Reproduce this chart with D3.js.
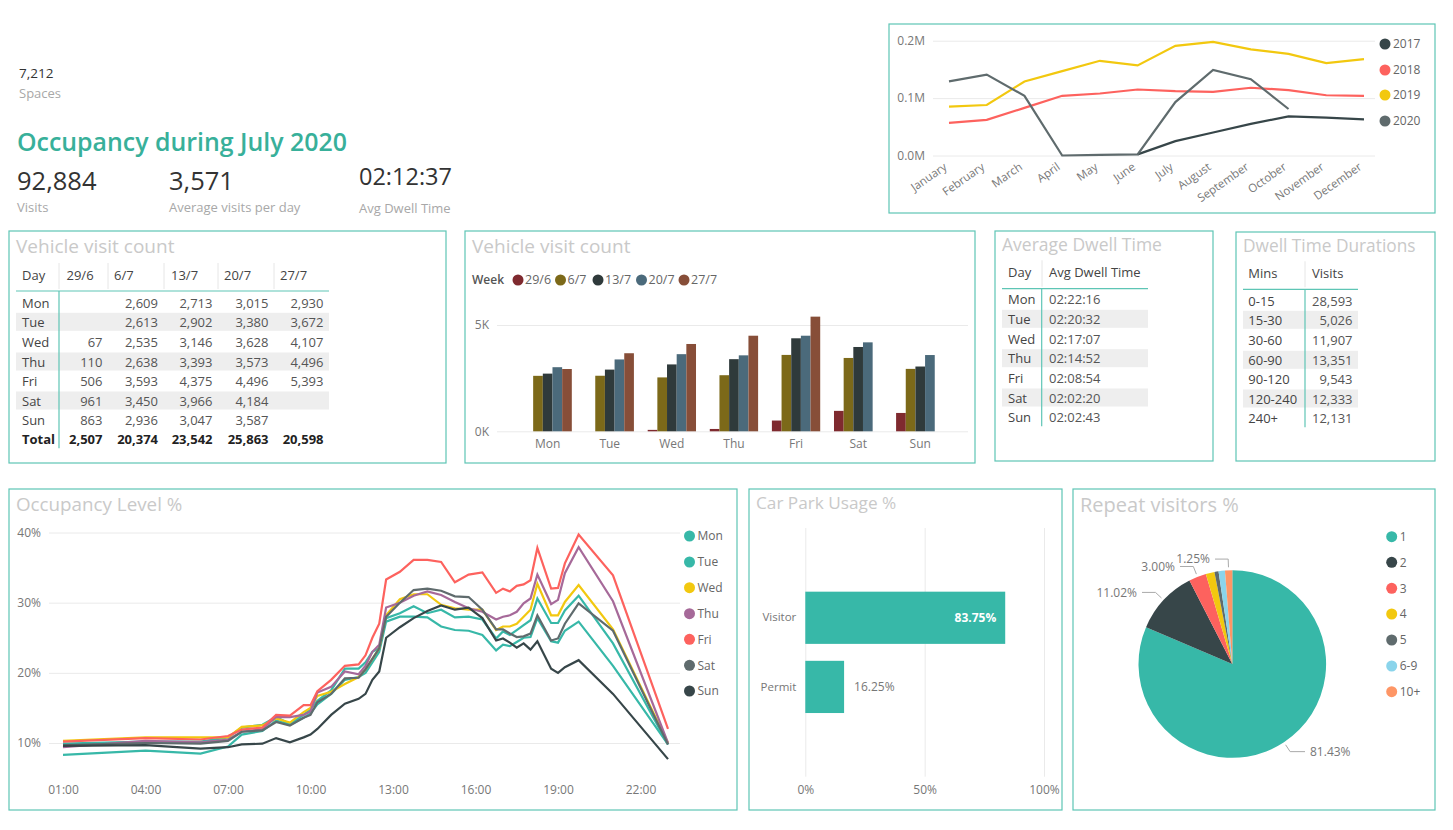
<!DOCTYPE html>
<html>
  <head>
    <meta charset="utf-8">
    <title>Occupancy dashboard</title>
    <script type="text/javascript" src="https://d3js.org/d3.v7.min.js"></script>
    <style>
      body { margin: 0; background: #fff; }
      text { font-family: "Open Sans", sans-serif; }
    </style>
  </head>

  <body>
    <script>

    // yearly visits
    var months = ["January","February","March","April","May","June","July","August","September","October","November","December"];
    var years = ["2017","2018","2019","2020"];
    var yearColors = ["#374649","#FD625E","#F2C80F","#5F6B6D"];
    var visits2017 = [null,null,null,null,null,2000,25000,40000,55000,68000,66000,63000];
    var visits2018 = [57000,62000,83000,104000,108000,115000,112000,111000,118000,114000,105000,104000];
    var visits2019 = [85000,88000,129000,147000,165000,157000,191000,198000,185000,177000,161000,168000];
    var visits2020 = [129000,141000,104000,0,1000,2000,93000,149000,133000,81000,null,null];

    // weekly visits
    var days = ["Mon","Tue","Wed","Thu","Fri","Sat","Sun"];
    var weeks = ["29/6","6/7","13/7","20/7","27/7"];
    var weekColors = ["#7F2A2F","#7C6919","#2F3A3B","#4B6A7B","#874E38"];
    var week1 = [null,null,67,110,506,961,863];
    var week2 = [2609,2613,2535,2638,3593,3450,2936];
    var week3 = [2713,2902,3146,3393,4375,3966,3047];
    var week4 = [3015,3380,3628,3573,4496,4184,3587];
    var week5 = [2930,3672,4107,4496,5393,null,null];
    var weekTotals = [2507,20374,23542,25863,20598];

    // dwell tables
    var dwellTimes = ["02:22:16","02:20:32","02:17:07","02:14:52","02:08:54","02:02:20","02:02:43"];
    var dwellMins = ["0-15","15-30","30-60","60-90","90-120","120-240","240+"];
    var dwellVisits = [28593,5026,11907,13351,9543,12333,12131];

    // occupancy level by time of day
    var hours = [1,4,6,7,7.5,8.25,8.75,9.25,9.75,10,10.25,10.75,11.25,11.75,12,12.25,12.5,12.75,13.25,13.75,14.25,14.75,15.25,15.75,16.25,16.75,17,17.25,17.5,17.75,18,18.25,18.75,19,19.25,19.75,21,23];
    var hourTicks = [1,4,7,10,13,16,19,22];
    var occMon = [8.3,8.9,8.5,9.5,11.2,11.7,13.2,12.6,13.6,14.2,15.5,17,19,19.4,20,21.5,23,27.3,28,28,27.9,26.6,26.1,26,25.4,23.2,24,23.8,24.4,25,25.1,27.8,24.5,24.3,26,27.3,21,9.8];
    var occTue = [9.9,10.2,10.2,10.8,12.2,12.6,13.7,12.7,14,14.8,16,17.5,20.6,20.6,21.5,23,23.5,27.8,28.5,29.5,28.5,29,27.9,28,27.6,24.9,25.9,25.4,26.1,26.8,27.5,30.6,27.1,27.1,28.9,31,24.2,9.8];
    var occWed = [10.3,10.8,10.8,10.8,12.3,12.5,13.5,12.9,14.4,15,16.7,17.3,18.4,19.4,20.5,22,23.5,28.2,30.5,31.2,31.2,29.7,29.2,29,29,26.1,26.6,26.6,27,28,29,32.7,28.2,28.2,30.1,32.5,26.2,10];
    var occThu = [9.4,10.3,10.1,10.5,11.6,12,13.7,13.7,14,14.5,17.2,18,20.2,19.8,21,23,24,29.3,30,31,31.6,31.1,30.1,29.2,28.7,27.6,28,28.2,28.7,29.9,30.6,34,29.8,30.4,34.2,37.9,30.2,10];
    var occFri = [10.2,10.7,10.5,11,11.9,12.2,14,13.9,15.4,15.4,17.4,19,21,21.2,22.5,25,27,33.3,34.4,36.1,36.1,35.8,32.9,34,34.3,31.4,32,31.6,32.4,32.6,33.2,37.8,32,32.1,35.6,39.7,33.9,12];
    var occSat = [9.7,10,9.9,10.3,11.6,11.8,13,12.5,13.6,14,15.8,17,19.2,19.3,20.5,22,23.5,28,30,31.8,32,31.7,30.9,30.8,29,26.2,26.2,25.6,25.1,25.2,25.6,28.2,24.6,24.9,27,29.9,26,9.8];
    var occSun = [9.6,9.7,9.2,9.4,9.8,9.9,10.7,10.1,10.8,11.2,12,14,15.6,16.3,17,19,20.2,25,26.5,27.8,28.8,29.6,29,29.3,27.8,24.6,24.9,24.3,23.6,24.2,23.3,24.5,20.6,20,20.8,21.8,17,7.7];
    var occColors = ["#37B8A8","#37B8A8","#F2C80F","#A66999","#FD625E","#5F6B6D","#374649"];

    // car park usage
    var parkTypes = ["Visitor","Permit"];
    var parkShare = [83.75,16.25];

    // repeat visitors
    var repeatLabels = ["1","2","3","4","5","6-9","10+"];
    var repeatShare = [81.43,11.02,3.00,1.5,0.7,1.1,1.25];
    var repeatColors = ["#37B8A8","#374649","#FD625E","#F2C80F","#5F6B6D","#8AD4EB","#FE9666"];

    var frameColor = "#5EC5B5", titleColor = "#C9C9C9", tickColor = "#777", textColor = "#444";
    var fmt = d3.format(",");

    var svg = d3.select("body").append("svg")
                .attr("width", 1453)
                .attr("height", 830);

    function label(x, y, str, size, color, anchor, weight) {
      return svg.append("text")
                .attr("x", x).attr("y", y)
                .attr("dy", "0.35em")
                .attr("font-size", size)
                .attr("fill", color)
                .attr("text-anchor", anchor || "start")
                .attr("font-weight", weight || 400)
                .text(str);
    }

    function panel(x0, y0, x1, y1, title, titleY, size) {
      svg.append("rect")
         .attr("x", x0).attr("y", y0)
         .attr("width", x1 - x0).attr("height", y1 - y0)
         .attr("fill", "none")
         .attr("stroke", frameColor)
         .attr("stroke-width", 1.2);
      if (title) label(x0 + 7, titleY, title, size || 19, titleColor);
    }

    function dots(x, ys, colors, names, r, size) {
      names.forEach(function(n, i) {
        svg.append("circle").attr("cx", x).attr("cy", ys[i]).attr("r", r).attr("fill", colors[i]);
        label(x + r + 2.5, ys[i], n, size, "#666");
      });
    }

    function cleanAxis(g) {
      g.select(".domain").remove();
      g.selectAll(".tick line").attr("stroke", "#EAEAEA");
      g.selectAll(".tick text").attr("fill", tickColor).style("font-family", '"Open Sans", sans-serif');
    }

    // ---- headline numbers
    label(19, 73, "7,212", 13.5, "#333");
    label(19, 93, "Spaces", 13, "#A8A8A8");
    label(17, 142, "Occupancy during July 2020", 24.9, "#38B09A", "start", 600);
    label(17, 181, "92,884", 25.5, "#333");
    label(17, 207, "Visits", 13, "#A8A8A8");
    label(169, 181, "3,571", 25.5, "#333");
    label(169, 207, "Average visits per day", 13, "#A8A8A8");
    label(359, 177, "02:12:37", 23.5, "#333");
    label(359, 208, "Avg Dwell Time", 13, "#A8A8A8");

    // ---- yearly line chart
    panel(889, 24, 1435, 213);
    var xMonth = d3.scalePoint().domain(months).range([949, 1364]);
    var yYear = d3.scaleLinear().domain([0, 200000]).range([155.5, 40.7]);

    svg.append("g")
       .attr("transform", "translate(933,0)")
       .call(d3.axisLeft(yYear).tickValues([0, 100000, 200000]).tickSize(-442).tickPadding(8)
               .tickFormat(function(d) { return (d / 1e6).toFixed(1) + "M"; }))
       .call(cleanAxis)
       .attr("font-size", 12);

    svg.append("g")
       .attr("transform", "translate(0,155.5)")
       .call(d3.axisBottom(xMonth).tickSize(0).tickPadding(8))
       .call(cleanAxis)
       .attr("font-size", 11.5)
       .selectAll(".tick text")
       .attr("text-anchor", "end")
       .attr("dy", "0.7em")
       .attr("transform", "translate(-11,0) rotate(-35)");

    var yearLine = d3.line()
                     .defined(function(d) { return d !== null; })
                     .x(function(d, i) { return xMonth(months[i]); })
                     .y(function(d) { return yYear(d); });

    [visits2017, visits2018, visits2019, visits2020].forEach(function(s, i) {
      svg.append("path").datum(s)
         .attr("d", yearLine)
         .attr("fill", "none")
         .attr("stroke", yearColors[i])
         .attr("stroke-width", 2.2);
    });
    dots(1385, [44, 70, 95, 121], yearColors, years, 5.5, 12);

    // ---- tables
    function table(t) {
      // t.rows: array of rows, each row an array of strings
      t.rowY.forEach(function(y, i) {
        if (i % 2 == 1 && i < 6) {
          svg.append("rect").attr("x", t.x0).attr("y", y - 9.5)
             .attr("width", t.x1 - t.x0).attr("height", 18).attr("fill", "#EEEEEE");
        }
      });
      t.seps.forEach(function(x) {
        svg.append("line").attr("x1", x).attr("x2", x).attr("y1", t.headY - 12).attr("y2", t.lineY - 2)
           .attr("stroke", "#E6E6E6");
      });
      svg.append("line").attr("x1", t.x0).attr("x2", t.x1).attr("y1", t.lineY).attr("y2", t.lineY)
         .attr("stroke", frameColor).attr("stroke-width", 1.2);
      svg.append("line").attr("x1", t.vx).attr("x2", t.vx).attr("y1", t.lineY).attr("y2", t.rowY[t.rowY.length - 1] + 9)
         .attr("stroke", frameColor).attr("stroke-width", 1.2);
      t.head.forEach(function(h, j) { label(t.headX[j], t.headY, h, 13, textColor); });
      t.rows.forEach(function(r, i) {
        r.forEach(function(v, j) {
          var bold = t.boldLast && i == t.rows.length - 1;
          label(t.cellX[j], t.rowY[i], v, 13, bold ? "#222" : (j == 0 ? textColor : "#555"), t.cellAnchor[j], bold ? 700 : 400);
        });
      });
    }

    panel(9, 231, 446, 463, "Vehicle visit count", 246);
    var weekCols = [week1, week2, week3, week4, week5];
    var visitRows = days.map(function(d, i) {
      return [d].concat(weekCols.map(function(c) { return c[i] === null ? "" : fmt(c[i]); }));
    });
    visitRows.push(["Total"].concat(weekTotals.map(fmt)));
    table({
      x0: 16, x1: 329, vx: 59, lineY: 291, headY: 275,
      head: ["Day"].concat(weeks), headX: [22, 66.5, 114, 171, 224, 280],
      seps: [59, 108, 164, 218, 274],
      rowY: [303, 322.3, 342.3, 362, 381.7, 401, 420.3, 439.3],
      rows: visitRows, boldLast: true,
      cellX: [22, 102.5, 158, 212.5, 268.5, 323.5],
      cellAnchor: ["start", "end", "end", "end", "end", "end"]
    });

    panel(995, 231, 1213, 461, "Average Dwell Time", 245, 17.5);
    table({
      x0: 1002, x1: 1148, vx: 1041.7, lineY: 288.7, headY: 272.3,
      head: ["Day", "Avg Dwell Time"], headX: [1008, 1049],
      seps: [1042],
      rowY: [299.3, 319.3, 339, 358.7, 378.3, 398, 417.3],
      rows: days.map(function(d, i) { return [d, dwellTimes[i]]; }),
      cellX: [1008, 1049], cellAnchor: ["start", "start"]
    });

    panel(1236, 232, 1435, 461, "Dwell Time Durations", 246, 17.3);
    table({
      x0: 1243, x1: 1358, vx: 1305, lineY: 289.3, headY: 273.3,
      head: ["Mins", "Visits"], headX: [1248.3, 1312],
      seps: [1305],
      rowY: [301.3, 320.3, 340.3, 360.3, 379.7, 399, 418.3],
      rows: dwellMins.map(function(d, i) { return [d, fmt(dwellVisits[i])]; }),
      cellX: [1248.3, 1352.5], cellAnchor: ["start", "end"]
    });

    // ---- grouped bars
    panel(465, 231, 975, 463, "Vehicle visit count", 246);
    var xDay = d3.scaleBand().domain(days).range([516.6, 951.3]).paddingInner(0.222).paddingOuter(0.111);
    var xWeek = d3.scaleBand().domain(weeks).range([0, xDay.bandwidth()]);
    var yBar = d3.scaleLinear().domain([0, 5000]).range([431.3, 325]);

    svg.append("g")
       .attr("transform", "translate(497,0)")
       .call(d3.axisLeft(yBar).tickValues([0, 5000]).tickSize(-471).tickPadding(8)
               .tickFormat(function(d) { return (d / 1000) + "K"; }))
       .call(cleanAxis)
       .attr("font-size", 12);

    svg.append("g")
       .attr("transform", "translate(0,431.3)")
       .call(d3.axisBottom(xDay).tickSize(0).tickPadding(8))
       .call(cleanAxis)
       .attr("font-size", 12);

    weekCols.forEach(function(c, w) {
      var present = days.filter(function(d, i) { return c[i] !== null; });
      svg.append("g").selectAll("rect")
         .data(present)
         .enter()
           .append("rect")
           .attr("x", function(d) { return xDay(d) + xWeek(weeks[w]); })
           .attr("y", function(d) { return yBar(c[days.indexOf(d)]); })
           .attr("width", xWeek.bandwidth())
           .attr("height", function(d) { return yBar(0) - yBar(c[days.indexOf(d)]); })
           .attr("fill", weekColors[w]);
    });

    label(472, 280, "Week", 12, "#555", "start", 600);
    [518, 560.5, 598, 641.5, 684].forEach(function(x, i) {
      svg.append("circle").attr("cx", x).attr("cy", 280).attr("r", 5.5).attr("fill", weekColors[i]);
      label(x + 7, 280, weeks[i], 12.5, "#666");
    });

    // ---- occupancy lines
    panel(9, 489, 737, 810, "Occupancy Level %", 504, 18.8);
    var xHour = d3.scaleLinear().domain([1, 23]).range([63, 668]);
    var yOcc = d3.scaleLinear().domain([10, 40]).range([743, 532.5]);

    svg.append("g")
       .attr("transform", "translate(49,0)")
       .call(d3.axisLeft(yOcc).tickValues([10, 20, 30, 40]).tickSize(-631).tickPadding(8)
               .tickFormat(function(d) { return d + "%"; }))
       .call(cleanAxis)
       .attr("font-size", 12);

    svg.append("g")
       .attr("transform", "translate(0,782)")
       .call(d3.axisBottom(xHour).tickValues(hourTicks).tickSize(0).tickPadding(3)
               .tickFormat(function(d) { return d3.format("02")(d) + ":00"; }))
       .call(cleanAxis)
       .attr("font-size", 12);

    var occLine = d3.line()
                    .x(function(d, i) { return xHour(hours[i]); })
                    .y(function(d) { return yOcc(d); });

    [occMon, occTue, occWed, occThu, occFri, occSat, occSun].forEach(function(s, i) {
      svg.append("path").datum(s)
         .attr("d", occLine)
         .attr("fill", "none")
         .attr("stroke", occColors[i])
         .attr("stroke-width", 2.2);
    });
    dots(689.5, [536, 562, 587.7, 613.7, 639.3, 665.3, 691], occColors, days, 5.5, 12);

    // ---- car park bars
    panel(749, 489, 1062, 810, "Car Park Usage %", 503, 17.2);
    var xPark = d3.scaleLinear().domain([0, 100]).range([805.3, 1044]);
    var yPark = d3.scaleBand().domain(parkTypes).range([583.2, 721.5]).paddingInner(0.245).paddingOuter(0.1225);

    svg.append("g")
       .attr("transform", "translate(0,776.7)")
       .call(d3.axisBottom(xPark).tickValues([0, 50, 100]).tickSize(-248.7).tickPadding(9)
               .tickFormat(function(d) { return d + "%"; }))
       .call(cleanAxis)
       .attr("font-size", 12);

    svg.append("g")
       .attr("transform", "translate(805.3,0)")
       .call(d3.axisLeft(yPark).tickSize(0).tickPadding(9))
       .call(cleanAxis)
       .attr("font-size", 11.5);

    svg.append("g").selectAll("rect")
       .data(parkShare)
       .enter()
         .append("rect")
         .attr("x", xPark(0))
         .attr("y", function(d, i) { return yPark(parkTypes[i]); })
         .attr("width", function(d) { return xPark(d) - xPark(0); })
         .attr("height", yPark.bandwidth())
         .attr("fill", "#37B8A8");

    label(xPark(parkShare[0]) - 9, yPark(parkTypes[0]) + yPark.bandwidth() / 2, parkShare[0] + "%", 12, "#fff", "end", 700);
    label(xPark(parkShare[1]) + 10, yPark(parkTypes[1]) + yPark.bandwidth() / 2, parkShare[1] + "%", 12, tickColor);

    // ---- pie
    panel(1073, 489, 1435, 810, "Repeat visitors %", 505, 20);
    var pieR = 93.8;
    var arc = d3.arc().innerRadius(0).outerRadius(pieR);
    var slices = d3.pie().sort(null)(repeatShare);
    var pieG = svg.append("g").attr("transform", "translate(1232.3,664)");

    pieG.selectAll("path")
        .data(slices)
        .enter()
          .append("path")
          .attr("d", arc)
          .attr("fill", function(d, i) { return repeatColors[i]; });

    function ringPoint(d, r) {
      return d3.arc().innerRadius(r).outerRadius(r).centroid(d);
    }

    // label edge x and anchor for the slices that carry a label
    [[0, 1310, "start"], [1, 1137, "end"], [2, 1175, "end"], [6, 1210, "end"]].forEach(function(p) {
      var d = slices[p[0]];
      var a = ringPoint(d, pieR + 3), b = ringPoint(d, 105);
      var cx = 1232.3, cy = 664;
      var edge = p[2] == "start" ? p[1] - 5 : p[1] + 5;
      svg.append("polyline")
         .attr("points", [[cx + a[0], cy + a[1]], [cx + b[0], cy + b[1]], [edge, cy + b[1]]].join(" "))
         .attr("fill", "none")
         .attr("stroke", "#AAA");
      label(p[1], cy + b[1], repeatShare[p[0]].toFixed(2) + "%", 12, tickColor, p[2]);
    });
    dots(1391.7, [536.7, 562.3, 588.3, 614, 640, 666, 691.7], repeatColors, repeatLabels, 5.5, 12);

  </script>
  </body>
</html>
